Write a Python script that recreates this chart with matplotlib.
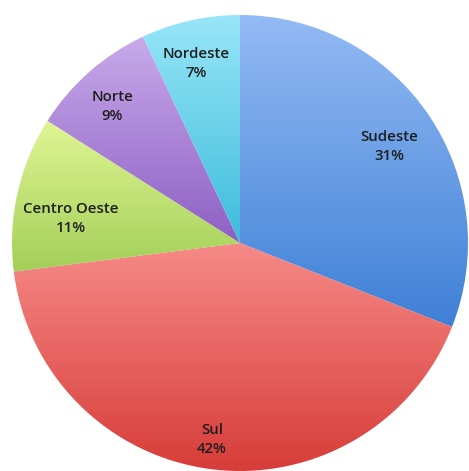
import numpy as np
import matplotlib
matplotlib.use("Agg")
import matplotlib.pyplot as plt
from matplotlib.colors import LinearSegmentedColormap

# Regional shares (%)
regions = ["Sudeste", "Sul", "Centro Oeste", "Norte", "Nordeste"]
shares = [31, 42, 11, 9, 7]

# Vertical gradient per slice: (top colour, bottom colour)
gradients = [
    ("#93baf4", "#3f80d6"),
    ("#f68a88", "#d63b36"),
    ("#e0f594", "#a2cf58"),
    ("#c8aaea", "#8e5fc4"),
    ("#98e6f8", "#3cbcda"),
]

plt.rcParams["font.family"] = ["Open Sans", "DejaVu Sans"]

W, H = 469, 471
fig = plt.figure(figsize=(W / 100, H / 100), dpi=100)
ax = fig.add_axes([0, 0, 1, 1])

wedges, _ = ax.pie(shares, startangle=90, counterclock=False, radius=1.0,
                   center=(0, 0), frame=True,
                   wedgeprops=dict(linewidth=0, edgecolor="none"))
ax.set_xlim(-240 / 228, 229 / 228)
ax.set_ylim(-228 / 228, 243 / 228)
ax.set_aspect("auto")
ax.axis("off")

for w, (top, bot) in zip(wedges, gradients):
    verts = w.get_patch_transform().transform(w.get_path().vertices)
    x0, y0 = verts.min(axis=0)
    x1, y1 = verts.max(axis=0)
    cmap = LinearSegmentedColormap.from_list("g", [bot, top])
    grad = np.linspace(0, 1, 256).reshape(-1, 1)
    im = ax.imshow(grad, cmap=cmap, origin="lower", aspect="auto",
                   extent=[x0, x1, y0, y1], interpolation="bilinear", zorder=1)
    im.set_clip_path(w)
    w.set_facecolor("none")

# label placement: radial distance and angular nudge from slice middle
label_r = [0.78, 0.87, 0.75, 0.82, 0.81]
label_shift = [-1.3, -0.9, 4.5, 1.6, 1.1]
for w, name, val, r, d in zip(wedges, regions, shares, label_r, label_shift):
    mid = np.deg2rad((w.theta1 + w.theta2) / 2 + d)
    ax.text(r * np.cos(mid), r * np.sin(mid), f"{name}\n{val}%",
            ha="center", va="center", fontsize=10.8, fontweight="semibold",
            color="#1e1e1e", linespacing=1.45, zorder=3)

fig.savefig("out.png", dpi=100, facecolor="white")
